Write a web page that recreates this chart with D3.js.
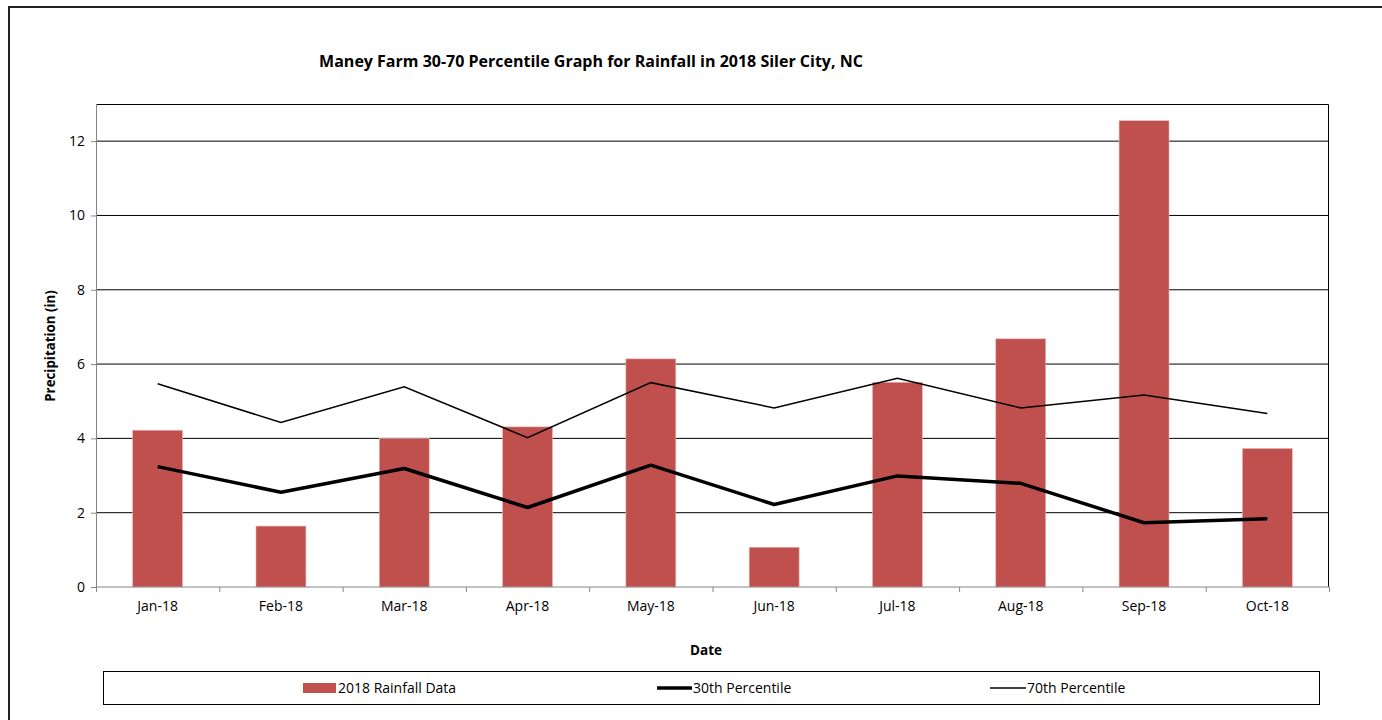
<!DOCTYPE html>
<html>
<head>
<meta charset="utf-8">
<script src="https://cdn.jsdelivr.net/npm/d3@7"></script>
<style>
  body { margin: 0; background: #fff; }
  svg { font-family: "Open Sans", Lato, sans-serif; }
</style>
</head>
<body>
<svg width="1382" height="720"></svg>
<script>
// months on the x axis
var months = ["Jan-18", "Feb-18", "Mar-18", "Apr-18", "May-18", "Jun-18", "Jul-18", "Aug-18", "Sep-18", "Oct-18"];
// 2018 monthly rainfall (bars)
var rainfall = [4.22, 1.64, 4.00, 4.31, 6.14, 1.07, 5.51, 6.68, 12.55, 3.73];
// 30th percentile (thick line)
var p30 = [3.24, 2.55, 3.19, 2.14, 3.28, 2.22, 2.99, 2.79, 1.73, 1.84];
// 70th percentile (thin line)
var p70 = [5.47, 4.43, 5.39, 4.02, 5.50, 4.82, 5.62, 4.82, 5.17, 4.67];
var yTicks = [0, 2, 4, 6, 8, 10, 12];

var margin = {top: 104, left: 96};
var width = 1329 - 96;
var height = 587 - 104;
var fs = "14px";

var svg = d3.select("svg");

// outer chart frame (runs off the right and bottom)
svg.append("rect")
  .attr("x", 9).attr("y", 7)
  .attr("width", 1400).attr("height", 730)
  .attr("fill", "none")
  .attr("stroke", "#222")
  .attr("stroke-width", 2);

// title
svg.append("text")
  .attr("x", 591).attr("y", 67)
  .attr("text-anchor", "middle")
  .attr("font-weight", "bold")
  .attr("font-size", "16px")
  .text("Maney Farm 30-70 Percentile Graph for Rainfall in 2018 Siler City, NC");

var g = svg.append("g")
  .attr("transform", "translate(" + margin.left + "," + margin.top + ")");

var x = d3.scaleBand().domain(months).range([0, width]).padding(0);
var y = d3.scaleLinear().domain([0, 13]).range([height, 0]);

// horizontal grid
g.append("g")
  .selectAll("line")
  .data(yTicks.filter(function(d) { return d > 0; }))
  .enter().append("line")
  .attr("x1", 0).attr("x2", width)
  .attr("y1", function(d) { return y(d); })
  .attr("y2", function(d) { return y(d); })
  .attr("stroke", "#000")
  .attr("stroke-width", 1);

// top and right border of the plot area
g.append("path")
  .attr("d", "M0,0.5H" + (width - 0.5) + "V" + height)
  .attr("fill", "none")
  .attr("stroke", "#000")
  .attr("stroke-width", 1);

// bars
var barW = x.bandwidth() * 0.405;
g.selectAll(".bar")
  .data(rainfall)
  .enter().append("rect")
  .attr("class", "bar")
  .attr("x", function(d, i) { return x(months[i]) + x.bandwidth() / 2 - barW / 2; })
  .attr("y", function(d) { return y(d); })
  .attr("width", barW)
  .attr("height", function(d) { return height - y(d); })
  .attr("fill", "#C0504D")
  .attr("stroke", "#e8b8b6")
  .attr("stroke-width", 0.6);

var line = d3.line()
  .x(function(d, i) { return x(months[i]) + x.bandwidth() / 2; })
  .y(function(d) { return y(d); });

g.append("path")
  .attr("d", line(p70))
  .attr("fill", "none")
  .attr("stroke", "#000")
  .attr("stroke-width", 1.5);

g.append("path")
  .attr("d", line(p30))
  .attr("fill", "none")
  .attr("stroke", "#000")
  .attr("stroke-width", 3.5)
  .attr("stroke-linejoin", "round");

// y axis
var yAxis = g.append("g")
  .call(d3.axisLeft(y).tickValues(yTicks).tickSize(5).tickPadding(6).tickFormat(d3.format("d")));
yAxis.select(".domain").attr("stroke", "#868686").attr("d", "M0.5,0V" + height);
yAxis.selectAll(".tick line").attr("stroke", "#868686");
yAxis.selectAll("text").attr("font-size", fs).attr("fill", "#000").attr("font-family", "'Open Sans', sans-serif");

// x axis: ticks on the category boundaries
var xAxis = g.append("g")
  .attr("transform", "translate(0," + height + ")");
xAxis.append("line")
  .attr("x1", 0).attr("x2", width)
  .attr("stroke", "#868686");
xAxis.selectAll(".xt")
  .data(months.concat(["end"]))
  .enter().append("line")
  .attr("class", "xt")
  .attr("x1", function(d, i) { return i * x.step() + 0.5; })
  .attr("x2", function(d, i) { return i * x.step() + 0.5; })
  .attr("y1", 0).attr("y2", 5)
  .attr("stroke", "#868686");
xAxis.selectAll(".xl")
  .data(months)
  .enter().append("text")
  .attr("class", "xl")
  .attr("x", function(d) { return x(d) + x.bandwidth() / 2; })
  .attr("y", 24)
  .attr("text-anchor", "middle")
  .attr("font-size", fs)
  .text(function(d) { return d; });

// axis titles
svg.append("text")
  .attr("transform", "translate(55,346) rotate(-90)")
  .attr("text-anchor", "middle")
  .attr("font-weight", "bold")
  .attr("font-size", "13.3px")
  .text("Precipitation (in)");

svg.append("text")
  .attr("x", 706).attr("y", 655)
  .attr("text-anchor", "middle")
  .attr("font-weight", "bold")
  .attr("font-size", "13.5px")
  .text("Date");

// legend
var legend = svg.append("g");
legend.append("rect")
  .attr("x", 103.5).attr("y", 671.5)
  .attr("width", 1216).attr("height", 33)
  .attr("fill", "#fff")
  .attr("stroke", "#000")
  .attr("stroke-width", 1);

legend.append("rect")
  .attr("x", 303).attr("y", 683)
  .attr("width", 33).attr("height", 10)
  .attr("fill", "#C0504D");
legend.append("text")
  .attr("x", 338).attr("y", 693).attr("font-size", fs)
  .text("2018 Rainfall Data");

legend.append("line")
  .attr("x1", 657).attr("x2", 692).attr("y1", 688).attr("y2", 688)
  .attr("stroke", "#000").attr("stroke-width", 3.5);
legend.append("text")
  .attr("x", 693).attr("y", 693).attr("font-size", fs)
  .text("30th Percentile");

legend.append("line")
  .attr("x1", 990).attr("x2", 1026).attr("y1", 688).attr("y2", 688)
  .attr("stroke", "#000").attr("stroke-width", 1.5);
legend.append("text")
  .attr("x", 1027).attr("y", 693).attr("font-size", fs)
  .text("70th Percentile");
</script>
</body>
</html>
